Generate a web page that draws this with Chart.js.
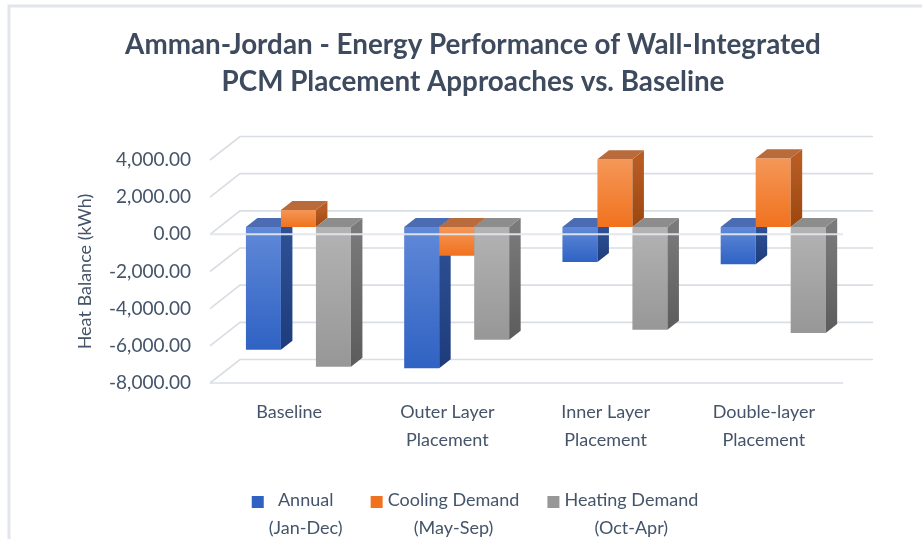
<!DOCTYPE html>
<html>
<head>
<meta charset="utf-8">
<script src="https://cdn.jsdelivr.net/npm/chart.js@4/dist/chart.umd.min.js"></script>
<style>
  html, body { margin: 0; padding: 0; background: #ffffff; }
  #wrap { width: 922px; height: 539px; position: relative; }
</style>
</head>
<body>
<div id="wrap"><canvas id="chart" width="922" height="539"></canvas></div>
<script>
// ---- data ----
const categories = [['Baseline'], ['Outer Layer', 'Placement'], ['Inner Layer', 'Placement'], ['Double-layer', 'Placement']];
const seriesNames = [['Annual', '(Jan-Dec)'], ['Cooling Demand', '(May-Sep)'], ['Heating Demand', '(Oct-Apr)']];
const annual  = [-6600, -7600, -1880, -2000];
const cooling = [920, -1540, 3650, 3700];
const heating = [-7520, -6060, -5530, -5700];
const yTicks = [-8000, -6000, -4000, -2000, 0, 2000, 4000];
const titleLines = ['Amman-Jordan - Energy Performance of Wall-Integrated', 'PCM Placement Approaches vs. Baseline'];
const axisTitle = 'Heat Balance (kWh)';

// ---- styling ----
const FONT = 'Lato, "Open Sans", sans-serif';
const TEXT = '#44546A';
const TITLE_COLOR = '#3E4B5F';
const GRID = '#D9DDE4';
const WALL = { dx: 30, dy: -23.5 };      // back wall offset from the front plane
const FRONT = { dx: 9.3, dy: -7.3 };     // bar front faces sit inside the box
const DEPTH = { dx: 11.5, dy: -9 };      // bar depth
const palette = [
  { front: ['#6089D8', '#2F62C3'], side: ['#2E5196', '#1E3C7B'], top: '#4B6CB2' },
  { front: ['#F49758', '#F1721E'], side: ['#B85C24', '#9C470E'], top: '#B96B3C' },
  { front: ['#B3B3B3', '#979797'], side: ['#7A7A7A', '#5C5C5C'], top: '#8D8D8D' }
];

function fmt(v) {
  return Number(v).toLocaleString('en-US', { minimumFractionDigits: 2, maximumFractionDigits: 2 });
}

function vGradient(ctx, top, bot, c0, c1) {
  if (!isFinite(top) || !isFinite(bot)) return c1;
  const g = ctx.createLinearGradient(0, top, 0, bot + 0.01);
  g.addColorStop(0, c0);
  g.addColorStop(1, c1);
  return g;
}

function frontGradient(idx) {
  return (c) => {
    const chart = c.chart;
    const y = chart.scales && chart.scales.y;
    if (!y || !c.parsed) return palette[idx].front[1];
    const p0 = y.getPixelForValue(0);
    const p1 = y.getPixelForValue(c.parsed.y);
    return vGradient(chart.ctx, Math.min(p0, p1), Math.max(p0, p1), palette[idx].front[0], palette[idx].front[1]);
  };
}

// chart frame (left/top edges of the chart box)
const framePlugin = {
  id: 'frame',
  beforeDraw(chart) {
    const ctx = chart.ctx;
    ctx.save();
    ctx.fillStyle = '#ffffff';
    ctx.fillRect(0, 0, chart.width, chart.height);
    ctx.strokeStyle = '#E2E6EC';
    ctx.lineWidth = 3;
    ctx.strokeRect(9, 6, 1200, 1200);
    ctx.restore();
  }
};

// back wall gridlines, side wall diagonals and floor edges
const wallPlugin = {
  id: 'wall',
  beforeDatasetsDraw(chart) {
    const ctx = chart.ctx, y = chart.scales.y, a = chart.chartArea;
    ctx.save();
    ctx.strokeStyle = GRID;
    ctx.lineWidth = 1.6;
    y.ticks.forEach(t => {
      const py = y.getPixelForValue(t.value);
      ctx.beginPath();
      ctx.moveTo(a.left, py);
      ctx.lineTo(a.left + WALL.dx, py + WALL.dy);
      ctx.lineTo(a.right + WALL.dx, py + WALL.dy);
      ctx.stroke();
    });
    const pb = y.getPixelForValue(y.min);
    ctx.beginPath();
    ctx.moveTo(a.left, pb);
    ctx.lineTo(a.right, pb);
    ctx.stroke();
    ctx.restore();
  }
};

// bars: library bar elements for the front faces, plus side and top faces
const barsPlugin = {
  id: 'bars3d',
  beforeDatasetDraw() { return false; },
  afterDatasetsDraw(chart) {
    const ctx = chart.ctx, area = chart.chartArea;
    ctx.save();
    ctx.translate(FRONT.dx, FRONT.dy);
    chart.data.datasets.forEach((ds, di) => {
      const meta = chart.getDatasetMeta(di);
      if (meta.hidden) return;
      meta.data.forEach(el => {
        const p = el.getProps(['x', 'y', 'base', 'width'], true);
        const l = p.x - p.width / 2, r = p.x + p.width / 2;
        const t = Math.min(p.y, p.base), b = Math.max(p.y, p.base);
        el.draw(ctx, area);
        // side face
        ctx.fillStyle = vGradient(ctx, t, b, palette[di].side[0], palette[di].side[1]);
        ctx.beginPath();
        ctx.moveTo(r, t);
        ctx.lineTo(r + DEPTH.dx, t + DEPTH.dy);
        ctx.lineTo(r + DEPTH.dx, b + DEPTH.dy);
        ctx.lineTo(r, b);
        ctx.closePath();
        ctx.fill();
        // top face
        ctx.fillStyle = palette[di].top;
        ctx.beginPath();
        ctx.moveTo(l, t);
        ctx.lineTo(r, t);
        ctx.lineTo(r + DEPTH.dx, t + DEPTH.dy);
        ctx.lineTo(l + DEPTH.dx, t + DEPTH.dy);
        ctx.closePath();
        ctx.fill();
      });
    });
    ctx.restore();
    // front edge of the zero floor, in front of the bars
    const y0 = chart.scales.y.getPixelForValue(0);
    ctx.save();
    ctx.strokeStyle = 'rgba(226,230,236,0.95)';
    ctx.lineWidth = 2;
    ctx.beginPath();
    ctx.moveTo(area.left, y0);
    ctx.lineTo(area.right, y0);
    ctx.stroke();
    ctx.restore();
  }
};

// legend with two-line, centred entries
const legendPlugin = {
  id: 'legend2',
  afterDraw(chart) {
    const ctx = chart.ctx;
    ctx.save();
    ctx.font = '18px ' + FONT;
    const SW = 12, GAP = 5, SPACE = 28, LINE1 = 500, LINE2 = 528, CENTER = 475;
    const items = chart.data.datasets.map((ds, i) => {
      const w = Math.max(...seriesNames[i].map(s => ctx.measureText(s).width));
      return { w, color: palette[i].front[1], lines: seriesNames[i] };
    });
    const total = items.reduce((s, it) => s + SW + GAP + it.w, 0) + SPACE * (items.length - 1);
    let x = CENTER - total / 2;
    ctx.textAlign = 'center';
    ctx.textBaseline = 'middle';
    items.forEach(it => {
      ctx.fillStyle = it.color;
      ctx.fillRect(x, LINE1 + 2 - SW / 2, SW, SW);
      const cx = x + SW + GAP + it.w / 2;
      ctx.fillStyle = TEXT;
      ctx.fillText(it.lines[0], cx, LINE1);
      ctx.fillText(it.lines[1], cx, LINE2);
      x += SW + GAP + it.w + SPACE;
    });
    ctx.restore();
  }
};

new Chart(document.getElementById('chart'), {
  type: 'bar',
  data: {
    labels: categories,
    datasets: [
      { label: seriesNames[0].join(' '), data: annual,  backgroundColor: frontGradient(0) },
      { label: seriesNames[1].join(' '), data: cooling, backgroundColor: frontGradient(1) },
      { label: seriesNames[2].join(' '), data: heating, backgroundColor: frontGradient(2) }
    ]
  },
  options: {
    responsive: false,
    animation: false,
    events: [],
    datasets: { bar: { categoryPercentage: 0.6635, barPercentage: 1, borderWidth: 0, clip: false } },
    layout: { padding: { left: 24, right: 0, top: 0, bottom: 84.5 } },
    plugins: {
      legend: { display: false },
      tooltip: { enabled: false },
      title: {
        display: true,
        text: titleLines,
        color: TITLE_COLOR,
        font: { family: FONT, size: 27.8, weight: 'bold', lineHeight: '37px' },
        padding: { top: 26.5, bottom: 59.5 }
      }
    },
    scales: {
      x: {
        grid: { display: false, drawTicks: false },
        border: { display: false },
        ticks: {
          color: TEXT,
          font: { family: FONT, size: 18, lineHeight: '28px' },
          padding: 15.5,
          autoSkip: false,
          maxRotation: 0
        },
        afterFit(s) { s.height = 71.5; }
      },
      y: {
        type: 'linear',
        position: 'left',
        min: -8000,
        max: 4000,
        grid: { display: false, drawTicks: false },
        border: { display: false },
        afterBuildTicks(s) { s.ticks = yTicks.map(v => ({ value: v })); },
        afterFit(s) { s.width = 186; },
        ticks: {
          color: TEXT,
          font: { family: FONT, size: 19 },
          padding: 19,
          callback: (v) => fmt(v)
        },
        title: {
          display: true,
          text: axisTitle,
          color: TEXT,
          font: { family: FONT, size: 18, lineHeight: 1.2 },
          padding: { top: 50.2, bottom: 0 }
        }
      },
      yRight: {
        type: 'linear',
        position: 'right',
        min: -8000,
        max: 4000,
        grid: { display: false, drawTicks: false },
        border: { display: false },
        ticks: { display: false },
        afterFit(s) { s.width = 79; }
      }
    }
  },
  plugins: [framePlugin, wallPlugin, barsPlugin, legendPlugin]
});
</script>
</body>
</html>
